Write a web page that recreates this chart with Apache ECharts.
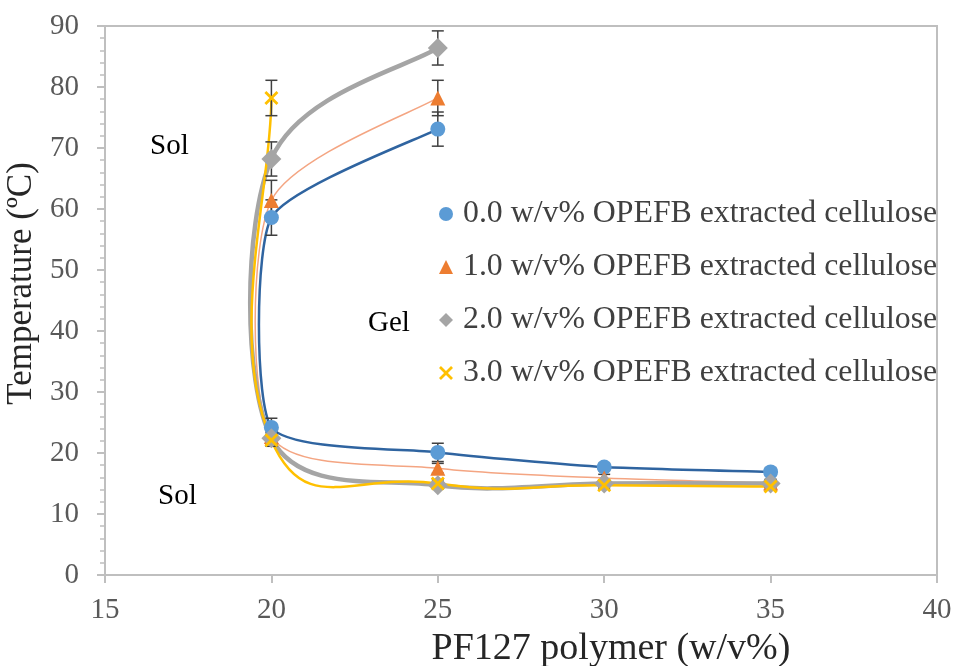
<!DOCTYPE html>
<html>
<head>
<meta charset="utf-8">
<script src="https://cdn.jsdelivr.net/npm/echarts@6/dist/echarts.min.js"></script>
<style>
  html, body { margin: 0; padding: 0; background: #ffffff; }
  #chart { width: 954px; height: 666px; }
</style>
</head>
<body>
<div id="chart"></div>
<script>
// Sol–gel transition temperatures of PF127 hydrogels with OPEFB cellulose
const seriesNames = [
  '0.0 w/v% OPEFB extracted cellulose',
  '1.0 w/v% OPEFB extracted cellulose',
  '2.0 w/v% OPEFB extracted cellulose',
  '3.0 w/v% OPEFB extracted cellulose'
];

// Polymer concentrations (w/v%) for the lower (sol→gel) and upper (gel→sol) branches
const xLower = [35, 30, 25, 20];
const xUpper = [20, 25];

// Lower transition temperatures (°C), listed from 35 down to 20
const lower0 = [16.9, 17.7, 20.1, 24.2];
const lower1 = [15.1, 15.9, 17.5, 22.7];
const lower2 = [15.0, 15.0, 14.7, 22.4];
const lower3 = [14.5, 14.7, 15.0, 22.1];

// Upper transition temperatures (°C) at 20 and 25
const upper0 = [58.6, 73.1];
const upper1 = [61.4, 78.2];
const upper2 = [68.2, 86.4];
const upper3 = [78.2];

// Standard deviations (°C)
const errLower0 = [0.6, 0.6, 1.5, 1.5];
const errLower1 = [0.6, 0.6, 0.8, 1.0];
const errLower2 = [0.6, 0.6, 0.6, 1.0];
const errLower3 = [0.6, 0.6, 0.6, 1.0];
const errUpper0 = [2.9, 2.8];
const errUpper1 = [3.3, 2.9];
const errUpper2 = [2.8, 2.8];
const errUpper3 = [2.9];

const xTicks = { min: 15, max: 40, interval: 5 };
const yTicks = { min: 0, max: 90, interval: 10 };

const lowers = [lower0, lower1, lower2, lower3];
const uppers = [upper0, upper1, upper2, upper3];
const errLowers = [errLower0, errLower1, errLower2, errLower3];
const errUppers = [errUpper0, errUpper1, errUpper2, errUpper3];

const markerColors = ['#5B9BD5', '#ED7D31', '#A5A5A5', '#FFC000'];
const lineColors = ['#2F64A0', '#F4A582', '#A5A5A5', '#FFC000'];
const lineWidths = [2.5, 1.5, 4.5, 2.5];
const curveTension = [0.1, 0.13, 0.17, 0.27];
const crossPath = 'path://M0,1.4L1.4,0L5,3.6L8.6,0L10,1.4L6.4,5L10,8.6L8.6,10L5,6.4L1.4,10L0,8.6L3.6,5Z';
const symbols = ['circle', 'triangle', 'diamond', crossPath];
const symbolSizes = [15, 15, 20, 14];

const FONT = 'Liberation Serif';

function pointsOf(i) {
  const pts = xLower.map((x, k) => [x, lowers[i][k], errLowers[i][k]]);
  uppers[i].forEach((y, k) => pts.push([xUpper[k], y, errUppers[i][k]]));
  return pts;
}

// Smoothed scatter line: one cubic Bézier per segment, Catmull-Rom style
// control arms computed in screen space and capped at half the segment length.
function curveRenderer(i) {
  const pts = pointsOf(i);
  return function (params, api) {
    const k = params.dataIndex;
    if (k >= pts.length - 1) return null;
    const c = j => {
      const p = pts[Math.max(0, Math.min(pts.length - 1, j))];
      return api.coord([p[0], p[1]]);
    };
    const p0 = c(k - 1), p1 = c(k), p2 = c(k + 1), p3 = c(k + 2);
    const d = (a, b) => Math.hypot(b[0] - a[0], b[1] - a[1]);
    const seg = d(p1, p2);
    let f1 = curveTension[i], f2 = curveTension[i];
    const d02 = d(p0, p2), d13 = d(p1, p3);
    if (d02 * f1 > seg / 2) f1 = seg / (2 * d02);
    if (d13 * f2 > seg / 2) f2 = seg / (2 * d13);
    return {
      type: 'bezierCurve',
      shape: {
        x1: p1[0], y1: p1[1], x2: p2[0], y2: p2[1],
        cpx1: p1[0] + (p2[0] - p0[0]) * f1, cpy1: p1[1] + (p2[1] - p0[1]) * f1,
        cpx2: p2[0] - (p3[0] - p1[0]) * f2, cpy2: p2[1] - (p3[1] - p1[1]) * f2
      },
      style: { stroke: lineColors[i], lineWidth: lineWidths[i], fill: null }
    };
  };
}

function errorBar(params, api) {
  const x = api.value(0), y = api.value(1), e = api.value(2);
  const top = api.coord([x, y + e]);
  const bot = api.coord([x, y - e]);
  const hw = 6;
  const style = { stroke: '#404040', lineWidth: 1.5 };
  return {
    type: 'group',
    children: [
      { type: 'line', shape: { x1: top[0], y1: top[1], x2: bot[0], y2: bot[1] }, style },
      { type: 'line', shape: { x1: top[0] - hw, y1: top[1], x2: top[0] + hw, y2: top[1] }, style },
      { type: 'line', shape: { x1: bot[0] - hw, y1: bot[1], x2: bot[0] + hw, y2: bot[1] }, style }
    ]
  };
}

const series = [];
seriesNames.forEach((name, i) => {
  series.push({
    name, type: 'custom', data: pointsOf(i).map(p => [p[0], p[1]]),
    renderItem: curveRenderer(i), z: 2, encode: { x: 0, y: 1 },
    itemStyle: { color: markerColors[i] }
  });
});
seriesNames.forEach((name, i) => {
  series.push({
    name, type: 'custom', data: pointsOf(i), renderItem: errorBar, z: 3,
    encode: { x: 0, y: 1 }, itemStyle: { color: markerColors[i] }
  });
});
seriesNames.forEach((name, i) => {
  series.push({
    name, type: 'scatter', data: pointsOf(i).map(p => [p[0], p[1]]), z: 4,
    symbol: symbols[i], symbolSize: symbolSizes[i],
    itemStyle: { color: markerColors[i], opacity: 1 }
  });
});

const chart = echarts.init(document.getElementById('chart'));
chart.setOption({
  animation: false,
  backgroundColor: '#ffffff',
  grid: {
    left: 105, right: 17, top: 26, bottom: 91,
    outerBoundsMode: 'none', containLabel: false,
    show: true, borderColor: '#BFBFBF', borderWidth: 2
  },
  legend: {
    orient: 'vertical', left: 434, top: 193,
    itemWidth: 14, itemHeight: 14, itemGap: 21,
    textStyle: { fontFamily: FONT, fontSize: 31.8, color: '#404040', lineHeight: 30, padding: [0, 0, 0, 5] },
    data: seriesNames.map((n, i) => ({ name: n, icon: symbols[i], itemStyle: { color: markerColors[i] } }))
  },
  xAxis: {
    type: 'value', min: xTicks.min, max: xTicks.max, interval: xTicks.interval,
    name: 'PF127 polymer (w/v%)', nameLocation: 'middle', nameGap: 55,
    nameTextStyle: { fontFamily: FONT, fontSize: 38, color: '#262626', padding: [0, 0, 0, 180] },
    axisLine: { show: true, lineStyle: { color: '#BFBFBF', width: 2 } },
    axisTick: { show: true, length: 8, lineStyle: { color: '#BFBFBF', width: 2 } },
    axisLabel: { fontFamily: FONT, fontSize: 29, color: '#595959', margin: 21 },
    splitLine: { show: false }
  },
  yAxis: {
    type: 'value', min: yTicks.min, max: yTicks.max, interval: yTicks.interval,
    name: 'Temperature (ºC)', nameLocation: 'middle', nameGap: 52,
    nameTextStyle: { fontFamily: FONT, fontSize: 35, color: '#262626', padding: [0, 0, 0, 34] },
    axisLine: { show: true, lineStyle: { color: '#BFBFBF', width: 2 } },
    axisTick: { show: true, length: 8, lineStyle: { color: '#BFBFBF', width: 2 } },
    minorTick: { show: true, splitNumber: 5, length: 5, lineStyle: { color: '#BFBFBF', width: 1.5 } },
    axisLabel: { fontFamily: FONT, fontSize: 29, color: '#595959', margin: 26 },
    splitLine: { show: false }
  },
  graphic: [
    { type: 'text', left: 150, top: 132, style: { text: 'Sol', font: '29px "Liberation Serif"', fill: '#000000' } },
    { type: 'text', left: 158, top: 482, style: { text: 'Sol', font: '29px "Liberation Serif"', fill: '#000000' } },
    { type: 'text', left: 368, top: 309, style: { text: 'Gel', font: '29px "Liberation Serif"', fill: '#000000' } }
  ],
  series
});
</script>
</body>
</html>
